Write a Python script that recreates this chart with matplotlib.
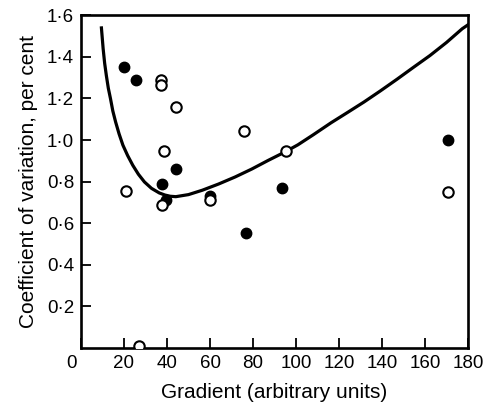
import matplotlib
matplotlib.use('Agg')
import matplotlib.pyplot as plt
import matplotlib.transforms as mtransforms

# filled circles
filled_x = [20.0, 25.6, 37.5, 39.5, 44.1, 60.0, 76.8, 93.7, 170.8]
filled_y = [1.35, 1.29, 0.79, 0.71, 0.86, 0.73, 0.55, 0.77, 1.00]

# open circles
open_x = [20.7, 37.4, 37.4, 44.1, 38.7, 37.9, 60.0, 75.9, 95.2, 170.8, 26.9]
open_y = [0.755, 1.29, 1.265, 1.16, 0.947, 0.685, 0.71, 1.045, 0.946, 0.75, 0.008]

# fitted curve
curve_x = [9.5, 10.3, 11.0, 11.8, 12.7, 13.7, 14.8, 16.1, 17.7, 19.5, 21.7, 24.1,
           26.7, 29.5, 32.8, 36.4, 39.0, 41.5, 44.1, 50.0, 56.4, 64.0, 71.7, 79.4,
           87.1, 94.8, 100.9, 108.0, 116.3, 124.0, 131.6, 139.3, 147.0, 154.6,
           162.3, 170.0, 177.3, 180.0]
curve_y = [1.54, 1.44, 1.37, 1.31, 1.25, 1.20, 1.14, 1.087, 1.03, 0.975, 0.925, 0.878,
           0.835, 0.798, 0.767, 0.745, 0.735, 0.729, 0.727, 0.737, 0.758, 0.788, 0.822, 0.86,
           0.902, 0.942, 0.977, 1.025, 1.083, 1.133, 1.183, 1.237, 1.293, 1.35,
           1.407, 1.47, 1.536, 1.555]

x_ticks = [0, 20, 40, 60, 80, 100, 120, 140, 160, 180]
x_labels = ['0', '20', '40', '60', '80', '100', '120', '140', '160', '180']
y_ticks = [0.2, 0.4, 0.6, 0.8, 1.0, 1.2, 1.4, 1.6]
y_labels = ['0·2', '0·4', '0·6', '0·8', '1·0', '1·2', '1·4', '1·6']

plt.rcParams['font.family'] = ['Liberation Sans', 'DejaVu Sans']

fig = plt.figure(figsize=(4.85, 4.07), dpi=100)
ax = fig.add_axes([0.167, 0.146, 0.798, 0.816])

ax.plot(curve_x, curve_y, color='black', linewidth=2.3, zorder=2,
        solid_joinstyle='round')
ax.plot(filled_x, filled_y, 'o', color='black', markersize=7.5, zorder=3)
ax.plot(open_x, open_y, 'o', markerfacecolor='white', markeredgecolor='black',
        markeredgewidth=1.5, markersize=7.5, zorder=3)

ax.set_xlim(0, 180)
ax.set_ylim(0, 1.6)
ax.set_xticks(x_ticks)
ax.set_xticklabels(x_labels, fontsize=13.5)
ax.set_yticks(y_ticks)
ax.set_yticklabels(y_labels, fontsize=13.5)
ax.tick_params(direction='in', length=7, width=1.3)
ax.tick_params(axis='y', pad=5)
ax.tick_params(axis='x', pad=5)

for s in ax.spines.values():
    s.set_linewidth(1.9)

# shift the corner "0" a little to the left, as in the original
off = mtransforms.ScaledTranslation(-9 / 100, 0, fig.dpi_scale_trans)
lab0 = ax.get_xticklabels()[0]
lab0.set_transform(lab0.get_transform() + off)

ax.set_xlabel('Gradient (arbitrary units)', fontsize=15, labelpad=8)
ax.set_ylabel('Coefficient of variation, per cent', fontsize=15, labelpad=6)

fig.savefig('out.png', dpi=100)
